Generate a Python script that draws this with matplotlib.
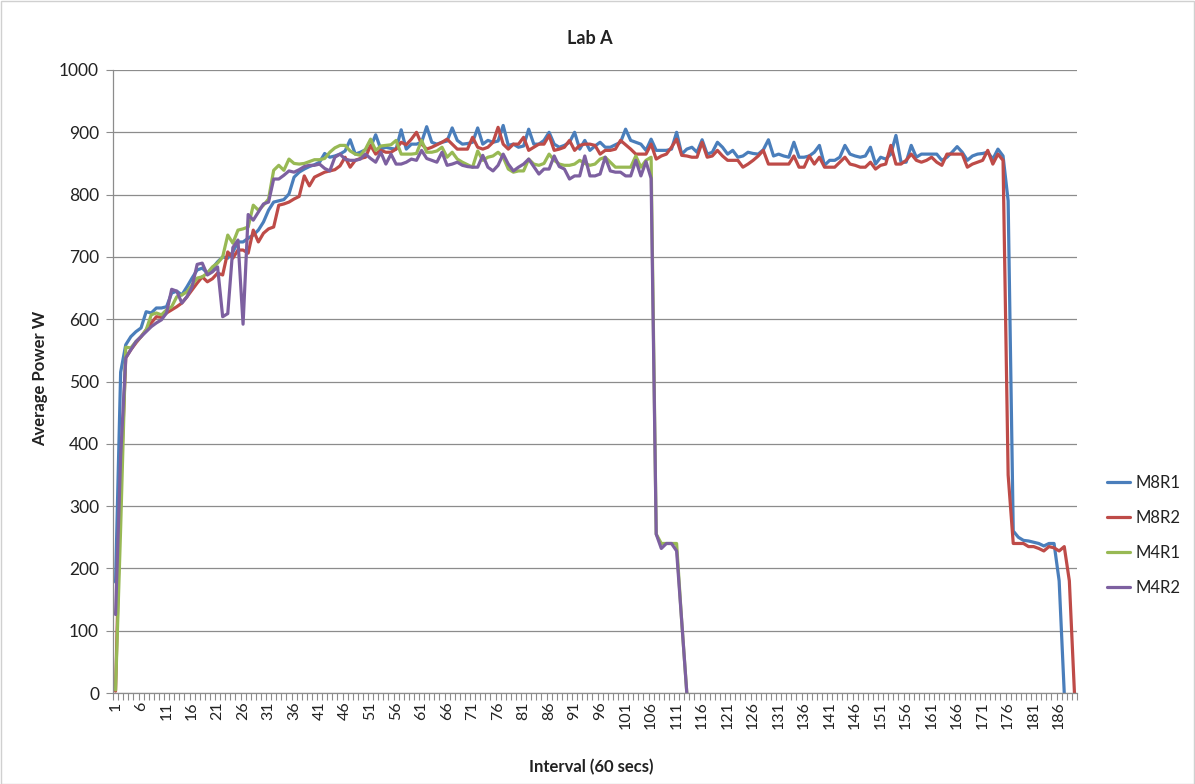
import numpy as np
import matplotlib
matplotlib.use("Agg")
import matplotlib.pyplot as plt
from matplotlib.patches import Rectangle

plt.rcParams['font.family'] = ['Lato', 'DejaVu Sans']

title = "Lab A"
x_label = "Interval (60 secs)"
y_label = "Average Power W"
series_names = ["M8R1", "M8R2", "M4R1", "M4R2"]
series_colors = ["#4A7EBB", "#BE4B48", "#98B954", "#7D60A0"]
n_categories = 189
x_tick_labels = ["1", "6", "11", "16", "21", "26", "31", "36", "41", "46", "51", "56",
                 "61", "66", "71", "76", "81", "86", "91", "96", "101", "106", "111",
                 "116", "121", "126", "131", "136", "141", "146", "151", "156", "161",
                 "166", "171", "176", "181", "186"]
y_ticks = [0, 100, 200, 300, 400, 500, 600, 700, 800, 900, 1000]

m8r1 = [178, 515, 559, 572, 580, 586, 612, 610, 618, 618,
        620, 642, 645, 639, 652, 666, 679, 682, 674, 682,
        692, 700, 698, 708, 724, 724, 730, 735, 743, 756,
        775, 788, 790, 792, 801, 828, 836, 841, 845, 848,
        852, 866, 860, 862, 865, 870, 888, 865, 868, 872,
        876, 896, 873, 876, 874, 873, 904, 873, 881, 881,
        884, 909, 884, 881, 884, 886, 907, 887, 881, 882,
        884, 907, 881, 887, 884, 886, 911, 879, 881, 876,
        878, 905, 881, 881, 887, 900, 881, 876, 879, 884,
        900, 873, 887, 871, 878, 884, 876, 876, 880, 884,
        905, 887, 884, 881, 871, 889, 871, 871, 871, 873,
        900, 865, 873, 876, 868, 888, 865, 868, 884, 876,
        865, 871, 860, 862, 868, 866, 865, 872, 888, 862,
        865, 862, 860, 884, 860, 860, 862, 868, 879, 847,
        855, 855, 860, 879, 865, 862, 860, 862, 876, 849,
        860, 857, 865, 895, 852, 852, 879, 860, 865, 865,
        865, 865, 855, 860, 868, 877, 868, 855, 862, 865,
        866, 868, 857, 873, 862, 790, 260, 250, 245, 244,
        242, 240, 236, 240, 240, 180, 0]

m8r2 = [3, 330, 538, 551, 562, 572, 583, 594, 604, 603,
        610, 615, 620, 626, 636, 647, 658, 668, 660, 665,
        674, 671, 708, 698, 711, 711, 706, 743, 724, 738,
        745, 748, 783, 785, 788, 793, 797, 830, 814, 828,
        832, 836, 838, 840, 846, 860, 844, 855, 858, 860,
        879, 865, 871, 868, 868, 873, 884, 880, 889, 900,
        881, 873, 876, 880, 884, 889, 881, 873, 873, 873,
        892, 876, 873, 876, 884, 908, 881, 873, 881, 881,
        892, 871, 876, 881, 881, 895, 871, 873, 876, 887,
        871, 879, 881, 881, 879, 865, 871, 871, 873, 887,
        880, 873, 865, 865, 865, 881, 857, 862, 865, 876,
        889, 863, 862, 860, 860, 884, 860, 862, 871, 862,
        855, 855, 855, 844, 849, 855, 862, 871, 849, 849,
        849, 849, 849, 862, 844, 844, 862, 849, 860, 844,
        844, 844, 852, 860, 849, 847, 844, 844, 852, 841,
        847, 849, 879, 849, 849, 855, 865, 855, 852, 855,
        860, 852, 847, 865, 865, 865, 865, 844, 849, 852,
        855, 871, 849, 865, 855, 350, 240, 240, 240, 235,
        235, 232, 228, 235, 233, 228, 235, 180, 0]

m4r1 = [5, 265, 555, 554, 564, 572, 583, 607, 610, 607,
        615, 620, 636, 639, 644, 655, 666, 668, 674, 684,
        690, 700, 735, 722, 743, 745, 748, 783, 775, 783,
        793, 839, 847, 839, 857, 850, 849, 850, 853, 856,
        856, 858, 868, 875, 879, 879, 870, 865, 863, 873,
        889, 871, 878, 879, 880, 887, 865, 865, 865, 866,
        887, 868, 868, 870, 876, 860, 868, 857, 852, 848,
        844, 870, 855, 860, 862, 868, 860, 841, 836, 838,
        838, 857, 849, 847, 850, 865, 855, 849, 847, 847,
        849, 855, 850, 847, 849, 857, 860, 852, 844, 844,
        844, 844, 862, 844, 855, 860, 255, 240, 240, 240,
        240, 115, 0]

m4r2 = [126, 380, 538, 551, 564, 572, 580, 588, 594, 599,
        610, 648, 645, 626, 636, 652, 688, 690, 671, 676,
        684, 604, 609, 715, 727, 592, 768, 759, 772, 785,
        788, 825, 825, 831, 838, 836, 840, 845, 847, 847,
        849, 842, 838, 860, 865, 857, 855, 855, 857, 865,
        858, 852, 868, 849, 865, 849, 849, 852, 857, 855,
        871, 858, 855, 852, 868, 847, 849, 852, 847, 845,
        844, 844, 863, 844, 838, 847, 865, 849, 838, 844,
        849, 857, 845, 833, 841, 841, 862, 845, 841, 825,
        830, 830, 862, 830, 830, 833, 860, 838, 836, 836,
        830, 830, 855, 830, 853, 826, 255, 232, 240, 240,
        228, 115, 0]

W, H = 1195, 784
fig = plt.figure(figsize=(W / 100, H / 100), dpi=100)
fig.patch.set_facecolor("white")
ax = fig.add_axes([113 / W, 1 - 693 / H, (1077 - 113) / W, (693 - 70) / H])

for name, vals, col in zip(series_names, [m8r1, m8r2, m4r1, m4r2], series_colors):
    xs = np.arange(1, len(vals) + 1)
    ax.plot(xs, vals, color=col, lw=2.3, label=name, solid_joinstyle="round",
            solid_capstyle="round")

ax.set_xlim(0.5, n_categories + 0.5)
ax.set_ylim(0, 1000)
ax.set_yticks(y_ticks)
ax.set_yticklabels([str(v) for v in y_ticks])
ax.yaxis.grid(True, color="#8c8c8c", lw=0.9)
ax.set_axisbelow(True)

major_pos = [int(t) for t in x_tick_labels]
ax.set_xticks(major_pos)
ax.set_xticklabels(x_tick_labels, rotation=90)
ax.set_xticks(np.arange(0.5, n_categories + 1, 1.0), minor=True)
ax.tick_params(axis="x", which="major", length=0, pad=6, labelsize=11.5, colors="#222222")
ax.tick_params(axis="x", which="minor", length=5, width=0.8, color="#8c8c8c")
ax.tick_params(axis="y", which="major", length=5, width=0.8, color="#8c8c8c",
               labelsize=12.5, labelcolor="#222222", pad=5)

for s in ["top", "right"]:
    ax.spines[s].set_visible(False)
for s in ["left", "bottom"]:
    ax.spines[s].set_color("#8c8c8c")
    ax.spines[s].set_linewidth(0.9)

fig.text(590 / W, 1 - 38 / H, title, ha="center", va="center", fontsize=13,
         fontweight="bold", color="#222222")
fig.text(40 / W, 1 - 378 / H, y_label, ha="center", va="center", rotation=90,
         fontsize=12, fontweight="bold", color="#222222")
fig.text(591 / W, 1 - 767 / H, x_label, ha="center", va="center", fontsize=12,
         fontweight="bold", color="#222222")

leg = ax.legend(loc="upper left", bbox_to_anchor=(1100 / W, 1 - 468 / H),
                bbox_transform=fig.transFigure, frameon=False, fontsize=12,
                handlelength=1.4, handletextpad=0.35, labelspacing=1.15,
                borderaxespad=0)
for t in leg.get_texts():
    t.set_color("#222222")

fig.add_artist(Rectangle((0.5 / W, 0.5 / H), 1 - 1.5 / W, 1 - 1.5 / H,
                         transform=fig.transFigure, fill=False,
                         edgecolor="#d0d0d0", lw=1))

fig.savefig("out.png", dpi=100, facecolor="white")
